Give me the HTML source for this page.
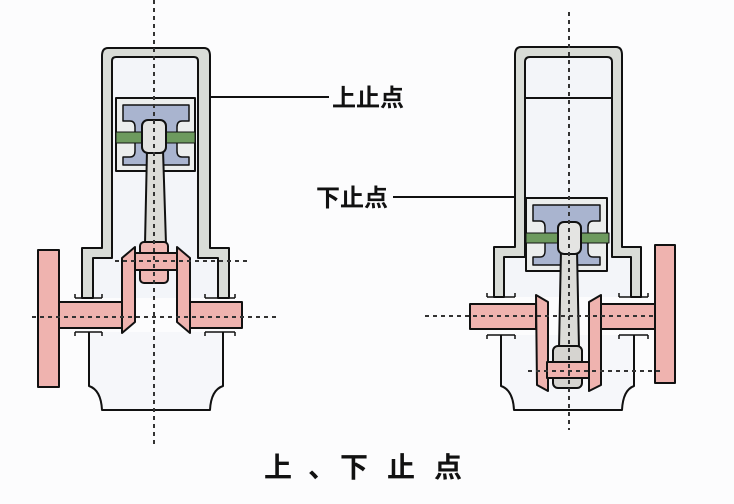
<!DOCTYPE html>
<html><head><meta charset="utf-8"><style>
html,body{margin:0;padding:0;background:#fff;}
svg{display:block;}
text{font-family:"Liberation Sans","Noto Sans CJK SC",sans-serif;fill:#111;font-weight:bold;}
</style></head><body>
<svg width="734" height="504" viewBox="0 0 734 504" xmlns="http://www.w3.org/2000/svg">
<rect width="734" height="504" fill="#fcfcfd"/>
<g stroke="#111" stroke-width="2" stroke-linejoin="round">
<path d="M89 332 V386 Q101 390 102 410 H210 Q211 390 223 386 V332" fill="#f6f7fa"/>
<path d="M112 57 H198 V258 H218 V298 H93 V258 H112 Z" fill="#f3f5f9" stroke="none"/>
<path d="M108 48 H204 Q210 48 210 56 V248 H229 V298 H218 V258 H198 V61 Q198 57 194 57 H116 Q112 57 112 61 V258 H93 V298 H82 V248 H102 V56 Q102 48 108 48 Z" fill="#d9dcd7"/>
<rect x="116" y="98" width="79" height="73" fill="#eceeed"/>
<path d="M123 105 H189 V121 H182 Q177 121 177 127 V151 Q177 157 182 157 H189 V165 H123 V157 H130 Q135 157 135 151 V127 Q135 121 130 121 H123 Z" fill="#a9b4cf" stroke-width="1.5"/>
<rect x="116" y="132" width="79" height="11" fill="#6d9a5e" stroke-width="1"/>
<path d="M147 150 L163 150 L166 244 L145 244 Z" fill="#dcdcd8"/>
<rect x="142" y="120" width="24" height="33" rx="6" fill="#e4e4e2"/>
<rect x="140" y="242" width="28" height="41" rx="4" fill="#efb8b4"/>
<rect x="135" y="253" width="42" height="17" fill="#efb3af"/>
<path d="M122 258 L135 247 L135 322 L122 333 Z" fill="#efb3af"/>
<path d="M177 247 L190 258 L190 333 L177 322 Z" fill="#efb3af"/>
<rect x="59" y="302" width="63" height="26" fill="#efb3af"/>
<rect x="190" y="302" width="52" height="26" fill="#efb3af"/>
<rect x="38" y="250" width="21" height="137" fill="#efb3af"/>
<path d="M75 298 H102 M75 298 V294 M102 298 V294 M205 298 H235 M205 298 V294 M235 298 V294 M75 332 H102 M75 332 V336 M102 332 V336 M205 332 H235 M205 332 V336 M235 332 V336" fill="none" stroke-width="1.5"/>

<path d="M501 335 V386 Q513 390 514 410 H622 Q623 390 634 386 V335" fill="#f6f7fa"/>
<path d="M525 57 H612 V257 H631 V297 H504 V257 H525 Z" fill="#f3f5f9" stroke="none"/>
<line x1="525" y1="98" x2="612" y2="98"/>
<path d="M521 47 H616 Q622 47 622 55 V247 H641 V297 H631 V257 H612 V62 Q612 57 607 57 H530 Q525 57 525 62 V257 H504 V297 H494 V247 H515 V55 Q515 47 521 47 Z" fill="#d9dcd7"/>
<rect x="526" y="198" width="81" height="73" fill="#eceeed"/>
<path d="M533 205 H600 V221 H593 Q588 221 588 227 V251 Q588 257 593 257 H600 V265 H533 V257 H540 Q545 257 545 251 V227 Q545 221 540 221 H533 Z" fill="#a9b4cf" stroke-width="1.5"/>
<rect x="526" y="233" width="83" height="10" fill="#6d9a5e" stroke-width="1"/>
<path d="M561 250 L577 250 L579 348 L559 348 Z" fill="#dcdcd8"/>
<rect x="558" y="222" width="23" height="32" rx="6" fill="#e4e4e2"/>
<path d="M536 295 L548 302 L548 391 L537 385 Z" fill="#efb3af"/>
<path d="M589 302 L601 295 L601 385 L589 391 Z" fill="#efb3af"/>
<rect x="553" y="346" width="29" height="42" rx="5" fill="#d6d4d0"/>
<rect x="547" y="362" width="42" height="16" fill="#efb3af"/>
<rect x="470" y="304" width="66" height="25" fill="#efb3af"/>
<rect x="601" y="304" width="54" height="25" fill="#efb3af"/>
<rect x="655" y="245" width="20" height="138" fill="#efb3af"/>
<path d="M487 297 H515 M487 297 V293 M515 297 V293 M619 297 H648 M619 297 V293 M648 297 V293 M487 335 H515 M487 335 V339 M515 335 V339 M619 335 H648 M619 335 V339 M648 335 V339" fill="none" stroke-width="1.5"/>

<line x1="210" y1="97" x2="329" y2="97"/>
<line x1="393" y1="197" x2="515" y2="197"/>
</g>
<g stroke="#333" stroke-width="2" stroke-dasharray="4 4" fill="none">
<line x1="154" y1="0" x2="154" y2="445"/>
<line x1="569" y1="12" x2="569" y2="430"/>
<line x1="32" y1="317" x2="278" y2="317"/>
<line x1="115" y1="261" x2="248" y2="261"/>
<line x1="425" y1="316" x2="656" y2="316"/>
<line x1="528" y1="371" x2="662" y2="371"/>
</g>
<text x="332" y="106" font-size="24">上止点</text>
<text x="316" y="206" font-size="24">下止点</text>
<g font-size="28">
<text x="264" y="477">上</text>
<text x="308" y="477">、</text>
<text x="340" y="477">下</text>
<text x="387" y="477">止</text>
<text x="434" y="477">点</text>
</g>
</svg>
</body></html>
